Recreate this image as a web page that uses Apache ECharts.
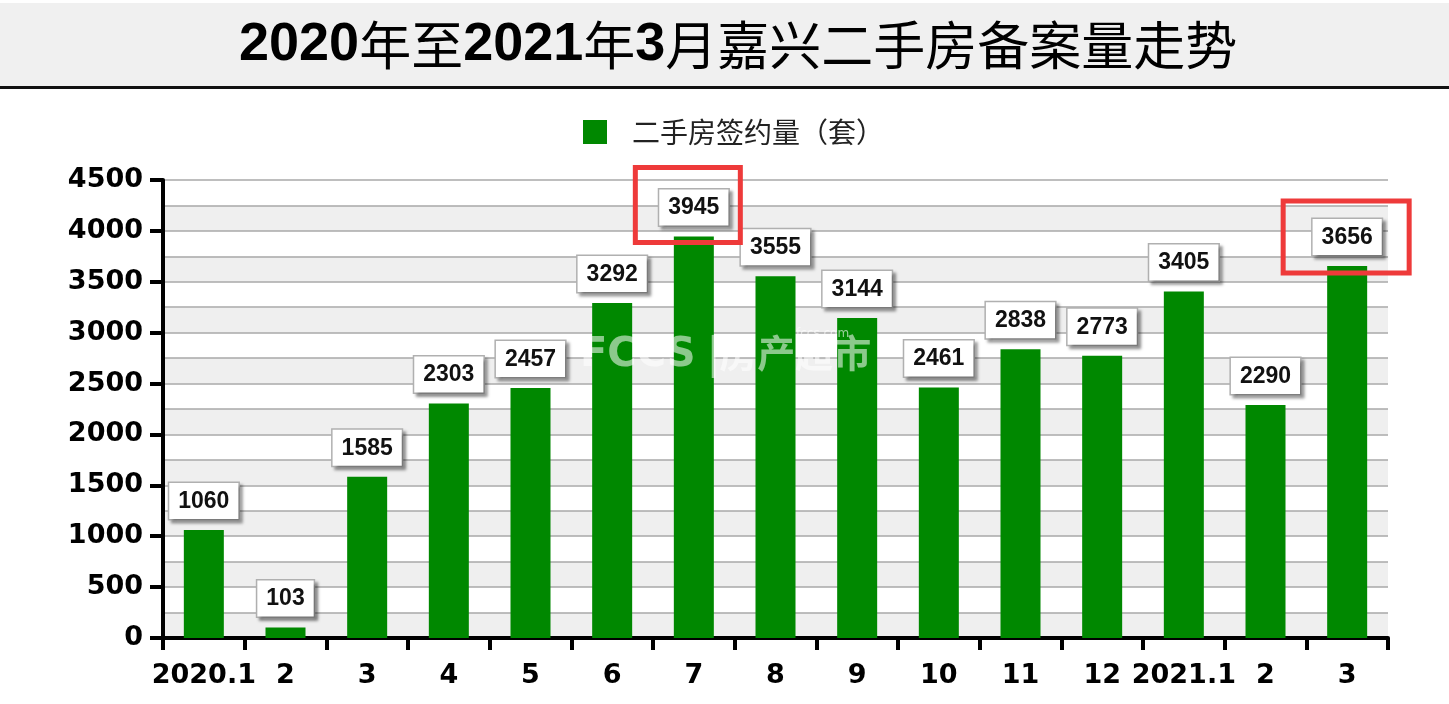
<!DOCTYPE html>
<html>
<head>
<meta charset="utf-8">
<script src="https://cdn.jsdelivr.net/npm/echarts@6/dist/echarts.min.js"></script>
<style>
html,body{margin:0;padding:0;background:#fff;}
#main{width:1449px;height:704px;}
</style>
</head>
<body>
<div id="main"></div>
<script>
const categories = ['2020.1','2','3','4','5','6','7','8','9','10','11','12','2021.1','2','3'];
const values = [1060,103,1585,2303,2457,3292,3945,3555,3144,2461,2838,2773,3405,2290,3656];
const seriesName = '二手房签约量（套）';
const titleParts = [['d','2020'],['c','年至'],['d','2021'],['c','年'],['d','3'],['c','月嘉兴二手房备案量走势']];
const highlighted = [6, 14];

const NUM_FONT = '"DejaVu Sans", "Liberation Sans", Arial, sans-serif';
const ARIAL = '"Liberation Sans", Arial, sans-serif';
const CJK_FONT = '"Noto Sans CJK SC", "Noto Sans", sans-serif';

const chart = echarts.init(document.getElementById('main'), null, {renderer:'canvas'});

const titleText = titleParts.map(p => '{' + p[0] + '|' + p[1] + '}').join('');

const option = {
  backgroundColor: '#ffffff',
  animation: false,
  title: {
    text: titleText,
    left: 234,
    top: 13,
    textStyle: {
      rich: {
        d: {fontFamily: ARIAL, fontWeight: 'bold', fontSize: 54, color: '#000'},
        c: {fontFamily: CJK_FONT, fontWeight: 'normal', fontSize: 52, color: '#000'}
      }
    }
  },
  legend: {
    left: 578,
    top: 113,
    itemWidth: 24,
    itemHeight: 24,
    icon: 'rect',
    data: [seriesName],
    textStyle: {fontFamily: CJK_FONT, fontSize: 28, color: '#222', padding: [0,0,0,20]}
  },
  grid: {left: 163, right: 61, top: 180, bottom: 66, containLabel: false},
  xAxis: {
    type: 'category',
    data: categories,
    boundaryGap: true,
    axisLine: {lineStyle: {color: '#000', width: 4}},
    axisTick: {show: true, length: 12, lineStyle: {color: '#000', width: 4}},
    axisLabel: {
      interval: 0, margin: 24,
      fontFamily: NUM_FONT, fontWeight: 'bold', fontSize: 27, color: '#000'
    },
    splitLine: {show: false}
  },
  yAxis: [
    {
      type: 'value', position: 'left', min: 0, max: 4500, interval: 250,
      axisLine: {show: false}, axisTick: {show: false}, axisLabel: {show: false},
      splitLine: {show: true, lineStyle: {color: '#a8a8a8', width: 1.5}},
      splitArea: {show: true, areaStyle: {color: ['#efefef', '#ffffff']}}
    },
    {
      type: 'value', position: 'left', offset: 0, min: 0, max: 4500, interval: 500,
      axisLine: {show: true, lineStyle: {color: '#000', width: 4}},
      axisTick: {show: true, length: 13, lineStyle: {color: '#000', width: 4}},
      axisLabel: {margin: 20, fontFamily: NUM_FONT, fontWeight: 'bold', fontSize: 27, color: '#000',
                  formatter: v => String(v)},
      splitLine: {show: false}
    }
  ],
  series: [{
    name: seriesName,
    type: 'bar',
    yAxisIndex: 0,
    data: values,
    barWidth: 40,
    itemStyle: {color: '#008800'},
    label: {
      show: true,
      position: 'top',
      distance: 11,
      fontFamily: ARIAL,
      fontWeight: 'bold',
      fontSize: 23,
      color: '#111',
      backgroundColor: '#ffffff',
      borderColor: '#b0b0b0',
      borderWidth: 1.5,
      padding: [7, 9, 6, 9],
      shadowColor: 'rgba(0,0,0,0.35)',
      shadowBlur: 3,
      shadowOffsetX: 3,
      shadowOffsetY: 3
    }
  }]
};
chart.setOption(option);

// decorative graphics: title band, red highlight boxes, watermark
const boxStyle = {6: {w: 105, h: 75, dx: -6, below: 6}, 14: {w: 126, h: 72, dx: -1, below: 7}};
const graphics = [
  {type: 'rect', z: -10, shape: {x: 0, y: 3, width: 1449, height: 83}, style: {fill: '#f0f0f0'}},
  {type: 'rect', z: -9, shape: {x: 0, y: 86, width: 1449, height: 3}, style: {fill: '#111'}},
  {type: 'text', z: 50, left: 580, top: 336, style: {text: 'FCCS', fontFamily: NUM_FONT, fontSize: 40, fontWeight: 'bold', fill: 'rgba(255,255,255,0.55)'}},
  {type: 'text', z: 50, left: 708, top: 334, style: {text: '|房产超市', fontFamily: CJK_FONT, fontSize: 38, fontWeight: 'bold', fill: 'rgba(255,255,255,0.55)'}},
  {type: 'text', z: 50, left: 796, top: 328, style: {text: 'fccs.com', fontFamily: NUM_FONT, fontSize: 12, fill: 'rgba(255,255,255,0.6)'}}
];
highlighted.forEach(i => {
  const p = chart.convertToPixel({xAxisIndex: 0, yAxisIndex: 0}, [i, values[i]]);
  const s = boxStyle[i];
  const bottom = p[1] + s.below;
  graphics.push({
    type: 'rect', z: 100,
    shape: {x: p[0] + s.dx - s.w / 2, y: bottom - s.h, width: s.w, height: s.h},
    style: {fill: 'none', stroke: '#ee3a3a', lineWidth: 5}
  });
});
chart.setOption({graphic: graphics});
</script>
</body>
</html>
